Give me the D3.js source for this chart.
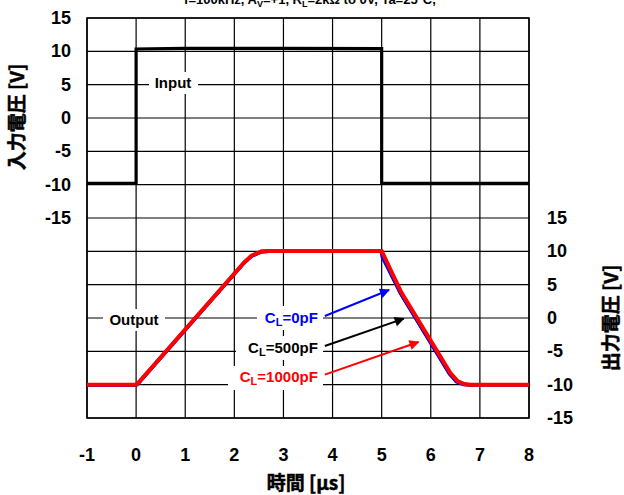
<!DOCTYPE html>
<html>
<head>
<meta charset="utf-8">
<script src="https://cdn.jsdelivr.net/npm/d3@7"></script>
<style>
  body { margin: 0; background: #fff; }
  svg { display: block; font-family: "Liberation Sans", Arial, sans-serif; font-weight: bold; }
  .jp { font-family: "Noto Sans CJK JP", "Liberation Sans", sans-serif; font-weight: 700; }
</style>
</head>
<body>
<svg id="app" width="624" height="495"></svg>
<script>
// time axis ticks [µs]
const timeTicks = [-1, 0, 1, 2, 3, 4, 5, 6, 7, 8];
const voltTicks = [15, 10, 5, 0, -5, -10, -15];

// input step (left axis)
const inputWave = [
  [-1, -9.8], [0, -9.8], [0, 10.35], [1, 10.45], [3, 10.45], [5, 10.4], [5, -9.8], [8, -9.8]
];

// output responses (right axis)
const outBlack = [
  [-1, -10], [0, -10], [0.05, -9.7], [2.2, 8.3], [2.35, 9.3], [2.55, 9.95], [2.7, 10],
  [5.0, 10], [5.04, 9.2], [5.13, 7.6], [5.38, 3.8], [6.38, -8.3], [6.53, -9.5], [6.68, -9.95], [6.8, -10], [8, -10]
];
const outBlue = [
  [-1, -10.1], [0, -10.1], [0.05, -9.8], [2.2, 8.25], [2.35, 9.25], [2.55, 9.9], [2.7, 10],
  [4.99, 10], [5.01, 9.1], [5.12, 7.55], [5.38, 3.7], [6.38, -8.4], [6.52, -9.6], [6.67, -10], [6.8, -10.05], [8, -10.05]
];
const outRed = [
  [-1, -10], [0, -10], [0.05, -9.7], [2.2, 8.35], [2.35, 9.35], [2.55, 10], [2.7, 10.05],
  [5.0, 10.05], [5.05, 9.3], [5.15, 7.7], [5.4, 3.85], [6.4, -8.25], [6.55, -9.5], [6.7, -9.95], [6.8, -10], [8, -10]
];

const capLabels = ["0pF", "500pF", "1000pF"];
const capColors = ["#0000ff", "#000000", "#ff0000"];
// label anchor point [time, out volt] and arrow tip [time, out volt]
const capLabelPos = [[3.7, 0], [3.7, -4.5], [3.7, -8.8]];
const capArrowTip = [[5.15, 4.2], [5.45, -0.1], [5.75, -3.6]];

const svg = d3.select("#app");
const x = d3.scaleLinear().domain([-1, 8]).range([87, 529]);
const yIn = d3.scaleLinear().domain([-15, 15]).range([218, 18]);
const yOut = d3.scaleLinear().domain([-15, 15]).range([418, 218]);
const yGrid = d3.scaleLinear().domain([-45, 15]).range([418, 18]);

// grid
const grid = svg.append("g");
grid.selectAll("line.v").data(timeTicks).join("line")
  .attr("x1", d => x(d)).attr("x2", d => x(d))
  .attr("y1", 18).attr("y2", 418)
  .attr("stroke", "#000").attr("stroke-width", 1.2);
grid.selectAll("line.h").data(d3.range(-45, 16, 5)).join("line")
  .attr("x1", 87).attr("x2", 529)
  .attr("y1", d => yGrid(d)).attr("y2", d => yGrid(d))
  .attr("stroke", "#000").attr("stroke-width", 1.2);
svg.append("rect").attr("x", 87).attr("y", 18).attr("width", 442).attr("height", 400)
  .attr("fill", "none").attr("stroke", "#000").attr("stroke-width", 1.5);

// white label backgrounds
const bg = svg.append("g").attr("fill", "#fff");
bg.append("rect").attr("x", 149).attr("y", 72).attr("width", 49).attr("height", 22);
bg.append("rect").attr("x", 103).attr("y", 309).attr("width", 62).attr("height", 22);
bg.append("rect").attr("x", 257).attr("y", 306).attr("width", 66).attr("height", 24);
bg.append("rect").attr("x", 236).attr("y", 336).attr("width", 87).attr("height", 24);
bg.append("rect").attr("x", 228).attr("y", 366).attr("width", 95).attr("height", 24);

// traces
const lineIn = d3.line().x(d => x(d[0])).y(d => yIn(d[1]));
const lineOut = d3.line().x(d => x(d[0])).y(d => yOut(d[1]));
svg.append("path").attr("d", lineIn(inputWave)).attr("fill", "none")
  .attr("stroke", "#000").attr("stroke-width", 3.2);
svg.append("path").attr("d", lineOut(outBlack)).attr("fill", "none")
  .attr("stroke", "#000").attr("stroke-width", 3.5);
svg.append("path").attr("d", lineOut(outBlue)).attr("fill", "none")
  .attr("stroke", "#0000ff").attr("stroke-width", 3.2);
svg.append("path").attr("d", lineOut(outRed)).attr("fill", "none")
  .attr("stroke", "#ff0000").attr("stroke-width", 4);

// arrow markers
const defs = svg.append("defs");
capColors.forEach((c, i) => {
  defs.append("marker").attr("id", "arr" + i)
    .attr("viewBox", "0 0 10 10").attr("refX", 9).attr("refY", 5)
    .attr("markerWidth", 14).attr("markerHeight", 10).attr("markerUnits", "userSpaceOnUse")
    .attr("orient", "auto")
    .append("path").attr("d", "M0,0 L10,5 L0,10 z").attr("fill", c);
});
capLabels.forEach((lab, i) => {
  const px = x(capLabelPos[i][0]), py = yOut(capLabelPos[i][1]);
  svg.append("line")
    .attr("x1", px + 7).attr("y1", py - 2)
    .attr("x2", x(capArrowTip[i][0])).attr("y2", yOut(capArrowTip[i][1]))
    .attr("stroke", capColors[i]).attr("stroke-width", 2)
    .attr("marker-end", `url(#arr${i})`);
  const t = svg.append("text").attr("x", px).attr("y", py + 5)
    .attr("text-anchor", "end").attr("font-size", 15).attr("fill", capColors[i]);
  t.append("tspan").text("C");
  t.append("tspan").attr("font-size", 11).attr("dy", 3).text("L");
  t.append("tspan").attr("dy", -3).text("=" + lab);
});

// trace names
svg.append("text").attr("x", 173).attr("y", 88).attr("text-anchor", "middle")
  .attr("font-size", 15).text("Input");
svg.append("text").attr("x", 134).attr("y", 325).attr("text-anchor", "middle")
  .attr("font-size", 15).text("Output");

// tick labels
svg.selectAll("text.tx").data(timeTicks).join("text")
  .attr("x", d => x(d)).attr("y", 461).attr("text-anchor", "middle")
  .attr("font-size", 18).text(d => d);
svg.selectAll("text.yl").data(voltTicks).join("text")
  .attr("x", 71).attr("y", d => yIn(d) + 6).attr("text-anchor", "end")
  .attr("font-size", 18).text(d => d);
svg.selectAll("text.yr").data(voltTicks).join("text")
  .attr("x", 547).attr("y", d => yOut(d) + 6).attr("text-anchor", "start")
  .attr("font-size", 18).text(d => d);

// axis titles
const jpStyle = sel => sel.attr("class", "jp").attr("text-anchor", "middle")
  .attr("font-size", 19).attr("stroke", "#000").attr("stroke-width", 0.5);
svg.append("text").attr("x", 306).attr("y", 490).call(jpStyle).text("時間 [μs]");
svg.append("text").attr("transform", "translate(24,117) rotate(-90)").call(jpStyle).text("入力電圧 [V]");
svg.append("text").attr("transform", "translate(618,318) rotate(-90)").call(jpStyle).text("出力電圧 [V]");

// clipped condition title
const title = svg.append("text").attr("x", 310).attr("y", 4)
  .attr("text-anchor", "middle").attr("font-size", 13);
title.append("tspan").text("f=100kHz, A");
title.append("tspan").attr("font-size", 9).attr("dy", 3).text("V");
title.append("tspan").attr("dy", -3).text("=+1, R");
title.append("tspan").attr("font-size", 9).attr("dy", 3).text("L");
title.append("tspan").attr("dy", -3).text("=2kΩ to 0V, Ta=25°C,");
</script>
</body>
</html>
